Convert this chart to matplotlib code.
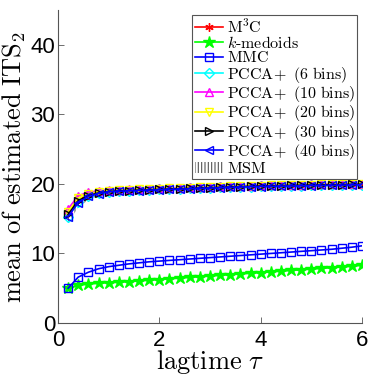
import matplotlib
matplotlib.use("Agg")
import matplotlib.pyplot as plt

plt.rcParams["mathtext.fontset"] = "cm"
plt.rcParams["font.family"] = ["Liberation Sans", "DejaVu Sans"]
plt.rcParams["hatch.linewidth"] = 0.8

# lagtime values
lagtime = [0.2, 0.4, 0.6, 0.8, 1.0, 1.2, 1.4, 1.6, 1.8, 2.0,
           2.2, 2.4, 2.6, 2.8, 3.0, 3.2, 3.4, 3.6, 3.8, 4.0,
           4.2, 4.4, 4.6, 4.8, 5.0, 5.2, 5.4, 5.6, 5.8, 6.0]

m3c = [15.8, 17.8, 18.4, 18.8, 18.95, 19.05, 19.1, 19.15, 19.2, 19.25,
       19.3, 19.35, 19.4, 19.45, 19.5, 19.55, 19.6, 19.65, 19.7, 19.72,
       19.75, 19.78, 19.82, 19.85, 19.88, 19.9, 19.92, 19.95, 19.97, 20.0]
kmedoids = [5.0, 5.4, 5.6, 5.7, 5.8, 5.85, 5.95, 6.05, 6.15, 6.25,
            6.35, 6.45, 6.55, 6.65, 6.75, 6.85, 6.95, 7.05, 7.15, 7.25,
            7.35, 7.45, 7.55, 7.65, 7.75, 7.85, 7.95, 8.05, 8.15, 8.3]
mmc = [5.0, 6.6, 7.3, 7.8, 8.1, 8.3, 8.5, 8.65, 8.8, 8.9,
       9.0, 9.1, 9.2, 9.3, 9.4, 9.5, 9.6, 9.7, 9.8, 9.9,
       10.0, 10.1, 10.2, 10.3, 10.4, 10.5, 10.6, 10.75, 10.9, 11.1]
pcca6 = [15.3, 17.4, 18.2, 18.7, 18.9, 19.0, 19.05, 19.1, 19.15, 19.2,
         19.25, 19.3, 19.35, 19.4, 19.45, 19.5, 19.55, 19.6, 19.62, 19.65,
         19.68, 19.7, 19.72, 19.75, 19.78, 19.8, 19.82, 19.85, 19.87, 19.9]
pcca10 = [16.4, 18.3, 18.8, 19.0, 19.1, 19.15, 19.2, 19.25, 19.3, 19.35,
          19.4, 19.45, 19.5, 19.55, 19.6, 19.65, 19.7, 19.72, 19.75, 19.8,
          19.82, 19.85, 19.88, 19.9, 19.92, 19.95, 19.97, 20.0, 20.02, 20.05]
pcca20 = [16.0, 18.0, 18.6, 18.9, 19.05, 19.1, 19.15, 19.2, 19.25, 19.3,
          19.35, 19.4, 19.45, 19.5, 19.55, 19.6, 19.65, 19.7, 19.72, 19.75,
          19.78, 19.82, 19.85, 19.88, 19.9, 19.92, 19.95, 19.97, 20.0, 20.02]
pcca30 = [15.6, 17.6, 18.3, 18.7, 18.9, 19.0, 19.05, 19.1, 19.15, 19.2,
          19.25, 19.3, 19.35, 19.4, 19.45, 19.5, 19.55, 19.6, 19.65, 19.7,
          19.72, 19.75, 19.78, 19.8, 19.83, 19.85, 19.88, 19.9, 19.93, 19.95]
pcca40 = [15.3, 17.3, 18.2, 18.6, 18.85, 18.95, 19.0, 19.05, 19.1, 19.15,
          19.2, 19.25, 19.3, 19.35, 19.4, 19.45, 19.5, 19.55, 19.6, 19.62,
          19.65, 19.68, 19.7, 19.72, 19.75, 19.78, 19.8, 19.82, 19.85, 19.88]
msm_low = [14.5, 16.6, 17.7, 18.3, 18.6, 18.75, 18.85, 18.9, 18.95, 19.0,
           19.05, 19.1, 19.15, 19.2, 19.25, 19.3, 19.35, 19.4, 19.45, 19.5,
           19.52, 19.55, 19.58, 19.6, 19.63, 19.65, 19.68, 19.7, 19.72, 19.75]
msm_high = [16.2, 18.1, 18.6, 18.9, 19.05, 19.15, 19.2, 19.25, 19.3, 19.35,
            19.4, 19.45, 19.5, 19.55, 19.6, 19.65, 19.7, 19.72, 19.75, 19.78,
            19.8, 19.83, 19.85, 19.88, 19.9, 19.93, 19.95, 19.97, 20.0, 20.02]

fig = plt.figure(figsize=(3.74, 3.78), dpi=100)
ax = fig.add_axes([0.155, 0.1455, 0.813, 0.828])

ax.fill_between(lagtime, msm_low, msm_high, facecolor="none",
                edgecolor="#555555", hatch="|||||", linewidth=0,
                label=r"$\mathrm{MSM}$", zorder=1)

ms = 6
lw = 1.2
ax.plot(lagtime, m3c, color="red", marker=(6, 2, 0), ms=ms, lw=lw,
        label=r"$\mathrm{M}^3\mathrm{C}$")
ax.plot(lagtime, kmedoids, color="#00ff00", marker="*", ms=ms + 3, lw=lw,
        label=r"$k\mathrm{\text{-}medoids}$")
ax.plot(lagtime, mmc, color="blue", marker="s", mfc="none", ms=ms, lw=lw,
        label=r"$\mathrm{MMC}$")
ax.plot(lagtime, pcca6, color="cyan", marker="D", mfc="none", ms=ms - 1, lw=lw,
        label=r"$\mathrm{PCCA\!+\ (6\ bins)}$")
ax.plot(lagtime, pcca10, color="magenta", marker="^", mfc="none", ms=ms, lw=lw,
        label=r"$\mathrm{PCCA\!+\ (10\ bins)}$")
ax.plot(lagtime, pcca20, color="yellow", marker="v", mfc="none", ms=ms, lw=lw,
        label=r"$\mathrm{PCCA\!+\ (20\ bins)}$")
ax.plot(lagtime, pcca30, color="black", marker=">", mfc="none", ms=ms, lw=lw,
        label=r"$\mathrm{PCCA\!+\ (30\ bins)}$")
ax.plot(lagtime, pcca40, color="blue", marker="<", mfc="none", ms=ms, lw=lw,
        label=r"$\mathrm{PCCA\!+\ (40\ bins)}$")

ax.set_xlim(0, 6)
ax.set_ylim(0, 45)
ax.set_xticks([0, 2, 4, 6])
ax.set_yticks([0, 10, 20, 30, 40])
ax.tick_params(direction="in", labelsize=16, length=4, width=0.6,
               color="#555555", pad=2)
ax.tick_params(axis="x", pad=5)
for side in ["top", "right"]:
    ax.spines[side].set_visible(False)
for side in ["left", "bottom"]:
    ax.spines[side].set_color("#555555")
    ax.spines[side].set_linewidth(0.8)

ax.set_xlabel(r"$\mathrm{lagtime}\ \tau$", fontsize=19, labelpad=-2)
ax.set_ylabel(r"$\mathrm{mean\ of\ estimated\ ITS}_2$", fontsize=19, labelpad=2)

handles, labels = ax.get_legend_handles_labels()
order = handles[1:] + handles[:1]
lab = labels[1:] + labels[:1]
leg = ax.legend(order, lab, loc="upper right", bbox_to_anchor=(0.984, 0.985),
                fontsize=11.5, labelspacing=-0.04, handlelength=1.8,
                handletextpad=0.2, borderpad=0.15, borderaxespad=0,
                fancybox=False, framealpha=1)
leg.get_frame().set_edgecolor("#555555")
leg.get_frame().set_linewidth(0.8)

fig.savefig("out.png", dpi=100)
